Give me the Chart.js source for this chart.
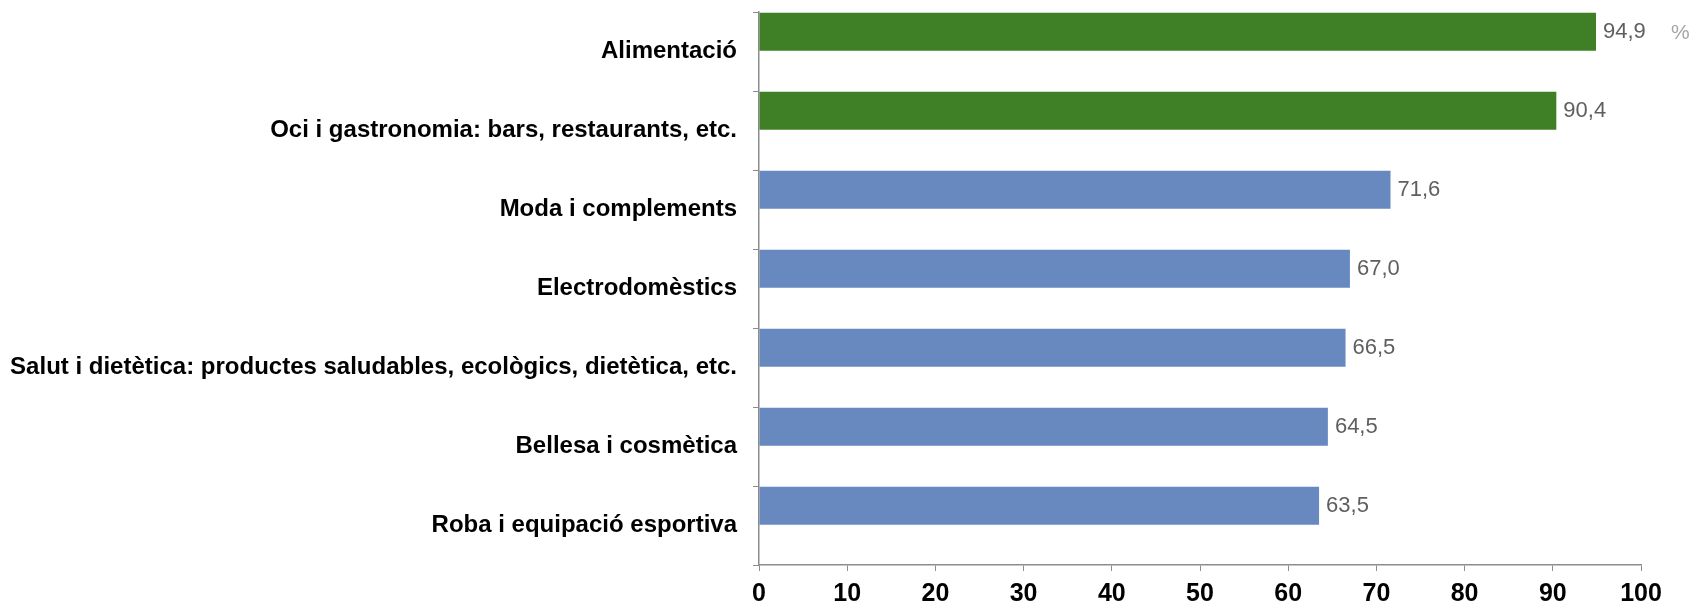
<!DOCTYPE html>
<html>
<head>
<meta charset="utf-8">
<script src="https://cdn.jsdelivr.net/npm/chart.js@4.4.1/dist/chart.umd.min.js"></script>
<style>
  html, body { margin: 0; padding: 0; background: #fff; }
  #wrap { width: 1694px; height: 604px; }
</style>
</head>
<body>
<div id="wrap"><canvas id="myChart" width="1694" height="604"></canvas></div>
<script>
// Sectors and share of respondents (%)
const categories = [
    'Alimentació',
    'Oci i gastronomia: bars, restaurants, etc.',
    'Moda i complements',
    'Electrodomèstics',
    'Salut i dietètica: productes saludables, ecològics, dietètica, etc.',
    'Bellesa i cosmètica',
    'Roba i equipació esportiva'
];
const values = [94.9, 90.4, 71.6, 67.0, 66.5, 64.5, 63.5];
const xTicks = [0, 10, 20, 30, 40, 50, 60, 70, 80, 90, 100];
const unitLabel = '%';

const green = '#3f7f26';
const blue = '#6889bf';
const barColors = values.map((v, i) => i < 2 ? green : blue);

// empty second series so each bar sits in the upper half of its row
const spacer = categories.map(() => null);

// writes the value next to each bar, comma as decimal separator
const valueLabels = {
    id: 'valueLabels',
    afterDatasetsDraw(chart) {
        const ctx = chart.ctx;
        const meta = chart.getDatasetMeta(0);
        ctx.save();
        ctx.textBaseline = 'middle';
        ctx.textAlign = 'left';
        meta.data.forEach((bar, i) => {
            const txt = values[i].toFixed(1).replace('.', ',');
            ctx.font = '22px "Liberation Sans", Arial, sans-serif';
            ctx.fillStyle = '#5f5f5f';
            ctx.fillText(txt, bar.x + 7, bar.y);
            if (i === 0) {
                ctx.fillStyle = '#a6a6a6';
                ctx.font = '21px "Liberation Sans", Arial, sans-serif';
                ctx.fillText(unitLabel, bar.x + 75, bar.y + 1);
            }
        });
        ctx.restore();
    }
};

const ctx = document.getElementById('myChart').getContext('2d');
const myChart = new Chart(ctx, {
    type: 'bar',
    data: {
        labels: categories,
        datasets: [{
            data: values,
            backgroundColor: barColors,
            borderWidth: 0,
            barPercentage: 0.96,
            categoryPercentage: 1.0
        }, {
            data: spacer,
            backgroundColor: 'rgba(0,0,0,0)',
            borderWidth: 0,
            barPercentage: 0.96,
            categoryPercentage: 1.0
        }]
    },
    options: {
        indexAxis: 'y',
        responsive: false,
        animation: false,
        layout: {
            padding: { top: 12, right: 53, left: 0, bottom: 0 }
        },
        scales: {
            x: {
                type: 'linear',
                min: 0,
                max: 100,
                afterBuildTicks: (scale) => {
                    scale.ticks = xTicks.map(v => ({ value: v }));
                },
                afterFit: (scale) => { scale.height = 39; },
                border: { color: '#8c8c8c', width: 1.5 },
                grid: {
                    drawOnChartArea: false,
                    drawTicks: true,
                    tickLength: 6,
                    color: '#8c8c8c'
                },
                ticks: {
                    color: '#000',
                    padding: 8,
                    maxRotation: 0,
                    font: { family: '"Liberation Sans Narrow", "Liberation Sans", Arial, sans-serif', size: 25, weight: 'bold' }
                }
            },
            y: {
                afterFit: (scale) => {
                    scale.width = 759;
                    scale.paddingTop = 0;
                    scale.paddingBottom = 0;
                },
                border: { color: '#8c8c8c', width: 1.5 },
                grid: {
                    offset: true,
                    drawOnChartArea: false,
                    drawTicks: true,
                    tickLength: 6,
                    color: '#8c8c8c'
                },
                ticks: {
                    color: '#000',
                    padding: 16,
                    font: { family: '"Liberation Sans", Arial, sans-serif', size: 24, weight: 'bold' }
                }
            }
        },
        plugins: {
            legend: { display: false },
            tooltip: { enabled: false },
            title: { display: false }
        }
    },
    plugins: [valueLabels]
});
</script>
</body>
</html>
